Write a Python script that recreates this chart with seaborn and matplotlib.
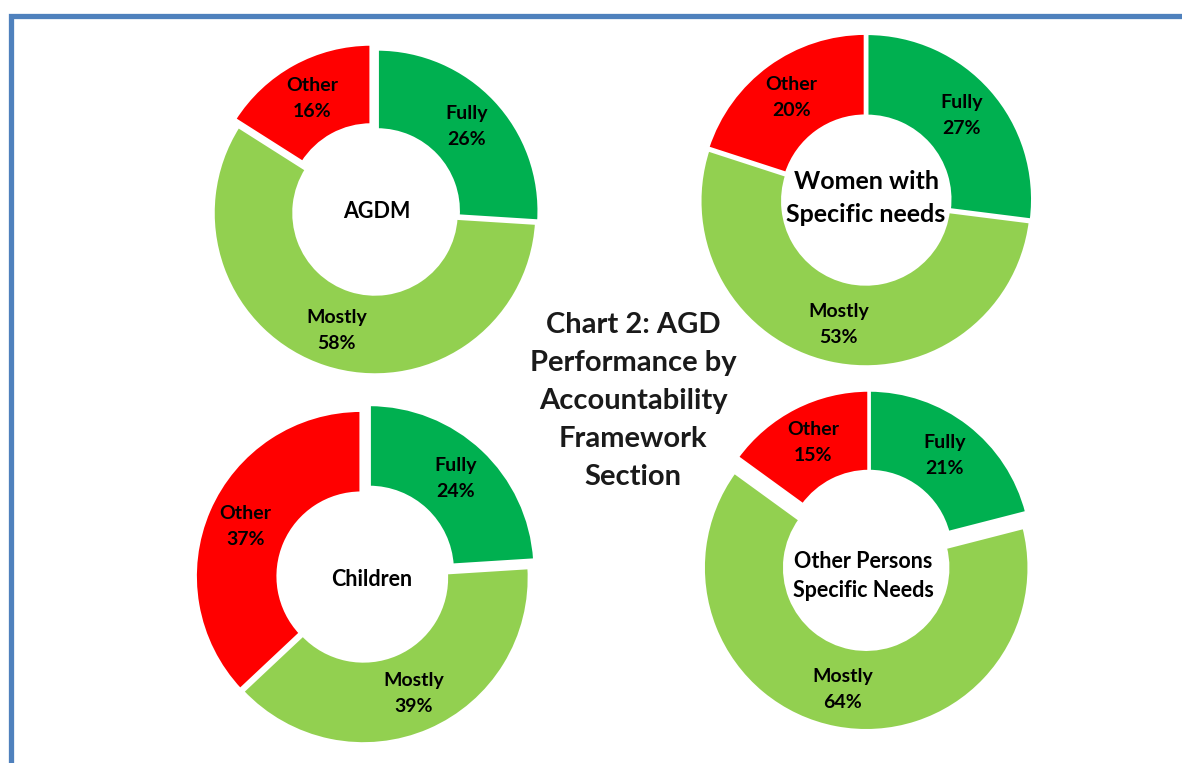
import matplotlib
matplotlib.use("Agg")
import matplotlib.pyplot as plt
from matplotlib.patches import Rectangle
import seaborn as sns

# data
sections = ["AGDM", "Women with\nSpecific needs", "Children", "Other Persons\nSpecific Needs"]
categories = ["Fully", "Mostly", "Other"]
fully = [26, 27, 24, 21]
mostly = [58, 53, 39, 64]
other = [16, 20, 37, 15]
title = "Chart 2: AGD\nPerformance by\nAccountability\nFramework\nSection"

sns.set_theme(style="white")
plt.rcParams['font.family'] = ['Lato', 'DejaVu Sans']

colors = ["#00B050", "#92D050", "#FF0000"]

W, H = 1182, 763
fig = plt.figure(figsize=(W / 100, H / 100), dpi=100)
ax = fig.add_axes([0, 0, 1, 1])

# layout: pie centre (px), radius (px), explode per slice (px),
# centre label position (px), centre label size, centre label spacing
layout = [
    ((375, 213), 162, (3, 0, 8), (377, 211), 15.5, 1.3),
    ((866, 200), 166, (1, 1, 1), (866, 198), 18, 1.5),
    ((363, 577), 166, (9, 1, 2), (372, 580), 15.5, 1.3),
    ((869, 553), 163, (0, 15, 0), (863, 576), 15.5, 1.45),
]

for i, sec in enumerate(sections):
    vals = [fully[i], mostly[i], other[i]]
    (cx, cy), r, expl, (tx, ty), fs, ls = layout[i]
    labels = [f"{c}\n{v}%" for c, v in zip(categories, vals)]
    ax.pie(vals, colors=colors, startangle=90, counterclock=False,
           radius=r, center=(cx, H - cy), explode=expl,
           labels=labels, labeldistance=0.76,
           wedgeprops=dict(width=r * 0.5, edgecolor="white", linewidth=2.5),
           textprops=dict(ha="center", va="center", fontsize=14,
                          fontweight="bold", color="black", linespacing=1.65))
    ax.text(tx, H - ty, sec, ha="center", va="center", fontsize=fs,
            fontweight="bold", color="black", linespacing=ls)

ax.text(633, H - 401, title, ha="center", va="center", fontsize=21,
        fontweight="bold", color="#1a1a1a", linespacing=1.56)

# frame border (cut at right/bottom)
ax.add_patch(Rectangle((10.8, -50), 1400, H - 15.5 + 50, fill=False,
                       edgecolor="#4F81BD", linewidth=3.8, clip_on=False))

ax.set_xlim(0, W)
ax.set_ylim(0, H)
ax.set_aspect("equal")
ax.axis("off")

fig.savefig("out.png", dpi=100)
